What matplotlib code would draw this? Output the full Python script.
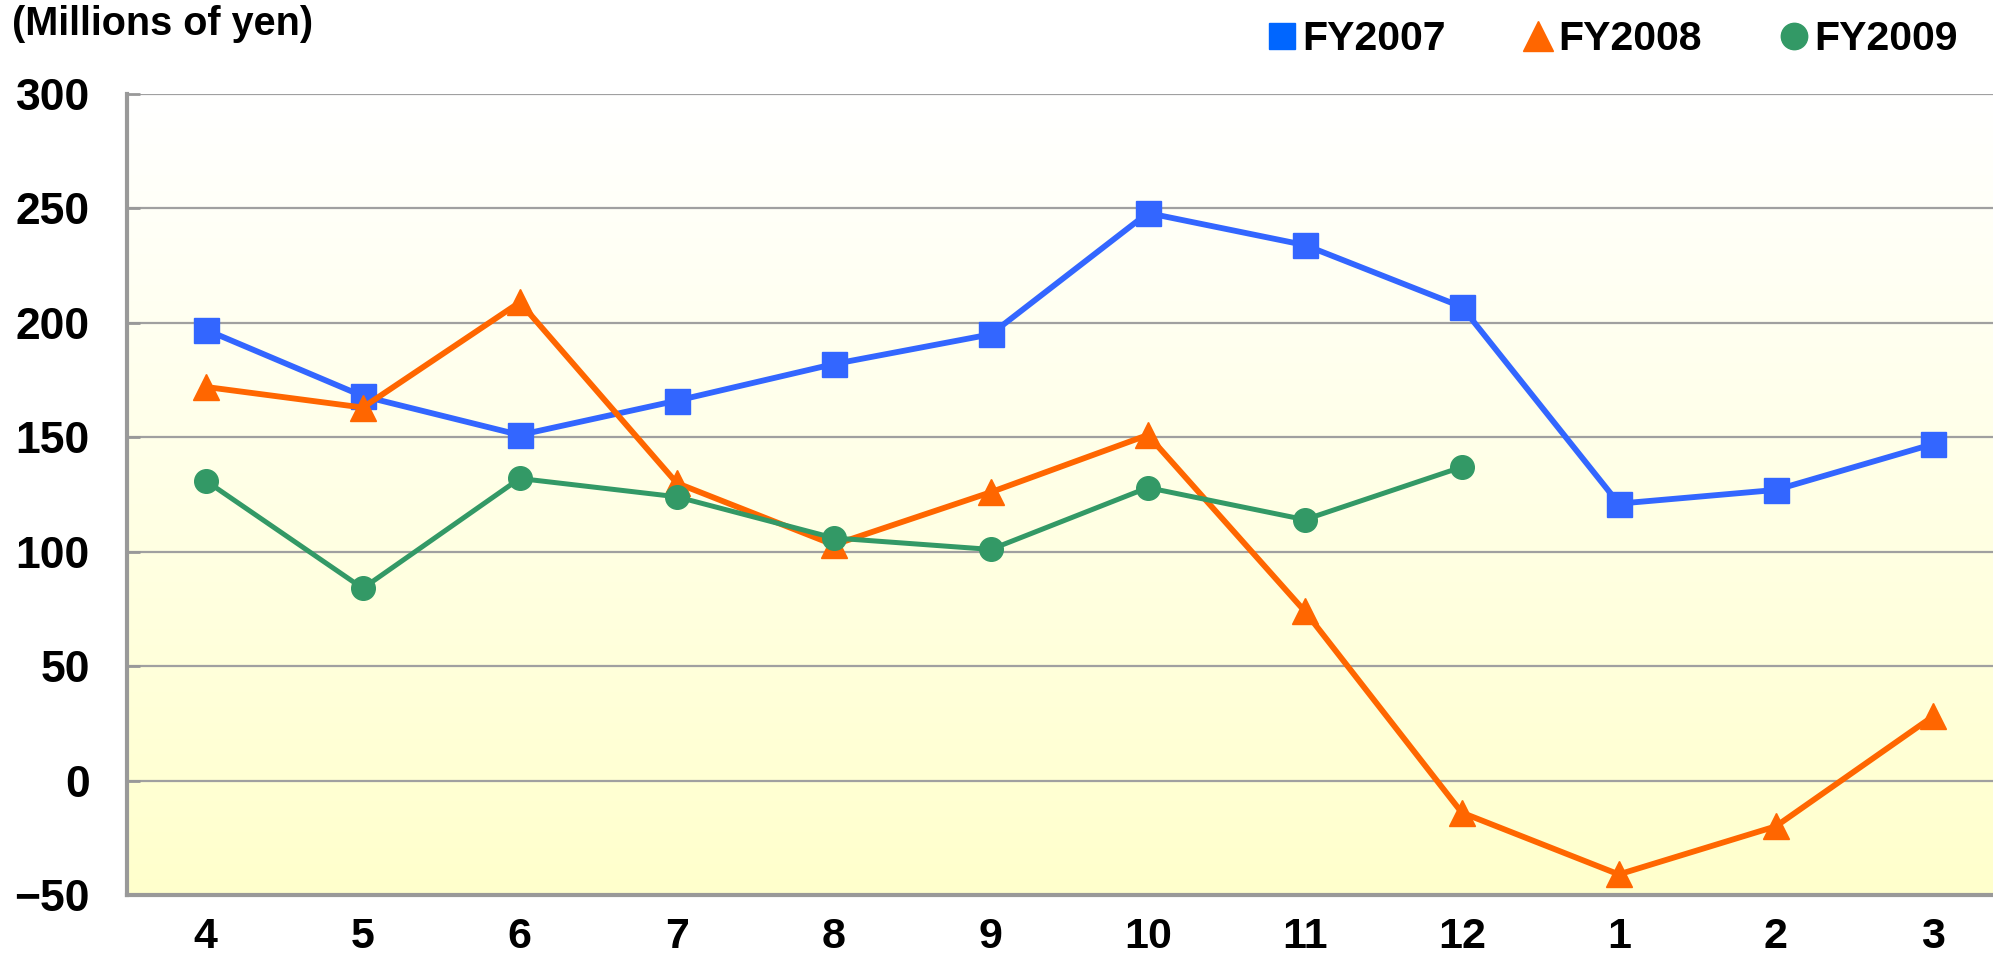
import matplotlib
matplotlib.use("Agg")
import matplotlib.pyplot as plt
import numpy as np
from matplotlib.lines import Line2D

plt.rcParams['font.family'] = ['Liberation Sans', 'DejaVu Sans']
plt.rcParams['font.weight'] = 'bold'

months = ['4', '5', '6', '7', '8', '9', '10', '11', '12', '1', '2', '3']
fy2007 = [197, 168, 151, 166, 182, 195, 248, 234, 207, 121, 127, 147]
fy2008 = [172, 163, 209, 130, 103, 126, 151, 74, -14, -41, -20, 28]
fy2009 = [131, 84, 132, 124, 106, 101, 128, 114, 137]

blue = '#3366FF'
orange = '#FF6600'
green = '#339966'

fig = plt.figure(figsize=(19.93, 9.56), dpi=100)
ax = fig.add_axes([127.3 / 1993, 61 / 956, 1884 / 1993, 801 / 956])

x = np.arange(len(months))

# background gradient: white at top, pale yellow at bottom
grad = np.linspace(0, 1, 256).reshape(-1, 1)
top = np.array([1.0, 1.0, 1.0])
bot = np.array([1.0, 1.0, 0.80])
img = top + (bot - top) * grad[..., None]
ax.imshow(img, extent=[-0.5, 11.5, -50, 300], aspect='auto', zorder=0, origin='upper')

ax.plot(x, fy2007, color=blue, lw=4.2, marker='s', ms=18, zorder=3)
ax.plot(x, fy2008, color=orange, lw=4.2, marker='^', ms=19, zorder=4)
ax.plot(x[:len(fy2009)], fy2009, color=green, lw=3.6, marker='o', ms=17, zorder=5)

ax.set_xlim(-0.5, 11.5)
ax.set_ylim(-50, 300)
ax.set_yticks(range(-50, 301, 50))
ax.set_xticks(x)
ax.set_xticklabels(months)
ax.set_yticklabels([('\u221250' if v == -50 else str(v)) for v in range(-50, 301, 50)])

ax.grid(axis='y', color='#A0A0A0', lw=1.6, zorder=1)
ax.set_axisbelow(True)
for s in ['top', 'right']:
    ax.spines[s].set_visible(False)
for s in ['left', 'bottom']:
    ax.spines[s].set_color('#999999')
    ax.spines[s].set_linewidth(3)

ax.tick_params(axis='y', direction='in', length=9, width=2, color='#999999',
               labelsize=32, pad=27)
ax.tick_params(axis='x', length=0, labelsize=31, pad=16)

fig.text(12 / 1993, 1 - 24 / 956, '(Millions of yen)', fontsize=28.5,
         fontweight='bold', va='center', ha='left')

handles = [
    Line2D([], [], color='#0066FF', marker='s', ls='none', ms=19),
    Line2D([], [], color=orange, marker='^', ls='none', ms=21),
    Line2D([], [], color=green, marker='o', ls='none', ms=19),
]
fig.legend(handles, ['FY2007', 'FY2008', 'FY2009'], ncol=3, frameon=False,
           loc='center right', bbox_to_anchor=(1958 / 1993, 1 - 39 / 956),
           fontsize=29.5, handlelength=0.6, handletextpad=0.2,
           columnspacing=1.95, borderpad=0, borderaxespad=0)

fig.savefig('out.png', dpi=100)
